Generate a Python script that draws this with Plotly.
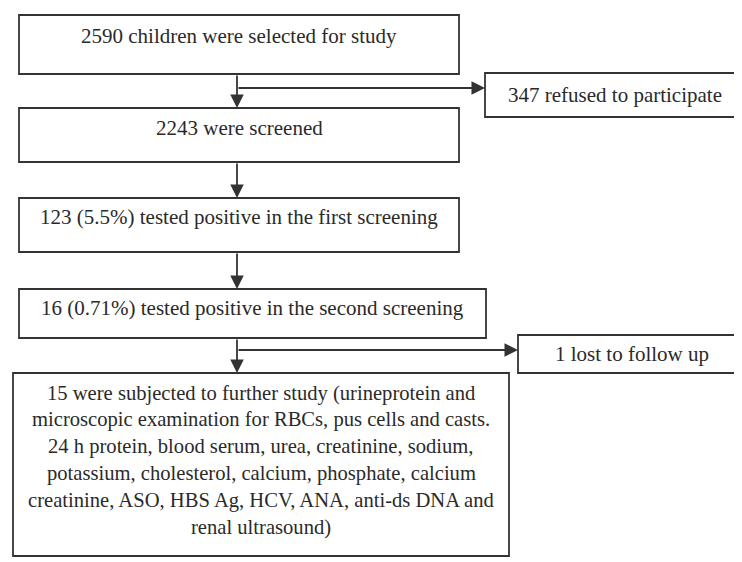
import plotly.graph_objects as go

# Flowchart content
main_steps = [
    "2590 children were selected for study",
    "2243 were screened",
    "123 (5.5%) tested positive in the first screening",
    "16 (0.71%) tested positive in the second screening",
]
final_lines = [
    "15 were subjected to further study (urineprotein and",
    "microscopic examination for RBCs, pus cells and casts.",
    "24 h protein, blood serum, urea, creatinine, sodium,",
    "potassium, cholesterol, calcium, phosphate, calcium",
    "creatinine, ASO, HBS Ag, HCV, ANA, anti-ds DNA and",
    "renal ultrasound)",
]
side_steps = ["347 refused to participate", "1 lost to follow up"]

# Layout geometry (page pixels; y downward)
W, H = 742, 562
OFF = 8  # page body margin
main_boxes = [  # x0, y0, x1, y1, text_y
    (19, 15, 459, 74, 36),
    (19, 108, 459, 162, 128),
    (19, 198, 459, 252, 217),
    (19, 289, 486, 338, 308),
]
final_box = (13, 373, 509, 556)
final_y0, final_dy = 393, 26.8
side_boxes = [  # x0, y0, x1, y1, text_x, branch_y
    (485, 73, 740, 117, 615, 93),
    (518, 335, 740, 373, 632, 350),
]
stem_x = 237
LC = "#333333"
TC = "#2a2a2a"
FONT = "Liberation Serif"
FS = 21
FS_FINAL = 20.6

fig = go.Figure()
shapes = []
annotations = []

def box(x0, y0, x1, y1):
    shapes.append(dict(type="rect", x0=x0, y0=y0, x1=x1, y1=y1,
                       line=dict(color=LC, width=1.8), fillcolor="white", layer="below"))

def label(x, y, txt, size=FS):
    annotations.append(dict(x=x, y=y, text=txt, showarrow=False,
                            xanchor="center", yanchor="middle", align="center",
                            font=dict(family=FONT, size=size, color=TC)))

for (x0, y0, x1, y1, ty), txt in zip(main_boxes, main_steps):
    box(x0, y0, x1, y1)
    label((x0 + x1) / 2, ty, txt)

fx0, fy0, fx1, fy1 = final_box
box(fx0, fy0, fx1, fy1)
for i, line in enumerate(final_lines):
    label((fx0 + fx1) / 2, final_y0 + i * final_dy, line, FS_FINAL)

for (x0, y0, x1, y1, tx, by), txt in zip(side_boxes, side_steps):
    box(x0, y0, x1, y1)
    label(tx, (y0 + y1) / 2, txt)

# vertical arrows between main boxes
tops = [b[1] for b in main_boxes[1:]] + [fy0]
bots = [b[3] for b in main_boxes]
for top, bot in zip(tops, bots):
    annotations.append(dict(x=stem_x, y=top, ax=stem_x, ay=bot, xref="x", yref="y",
                            axref="x", ayref="y", text="", showarrow=True,
                            arrowhead=2, arrowsize=1.5, arrowwidth=1.8, arrowcolor=LC))

# side branches
branch_y = [88, 350]
for (x0, y0, x1, y1, tx, _), by in zip(side_boxes, branch_y):
    annotations.append(dict(x=x0, y=by, ax=stem_x, ay=by, xref="x", yref="y",
                            axref="x", ayref="y", text="", showarrow=True,
                            arrowhead=2, arrowsize=1.5, arrowwidth=1.8, arrowcolor=LC))

fig.update_layout(
    width=W - OFF, height=H - OFF, margin=dict(l=0, r=0, t=0, b=0),
    paper_bgcolor="white", plot_bgcolor="white",
    xaxis=dict(range=[OFF, W], visible=False, fixedrange=True),
    yaxis=dict(range=[H, OFF], visible=False, fixedrange=True),
    shapes=shapes, annotations=annotations, showlegend=False,
)
fig.write_html("out.html", config={"displayModeBar": False})
